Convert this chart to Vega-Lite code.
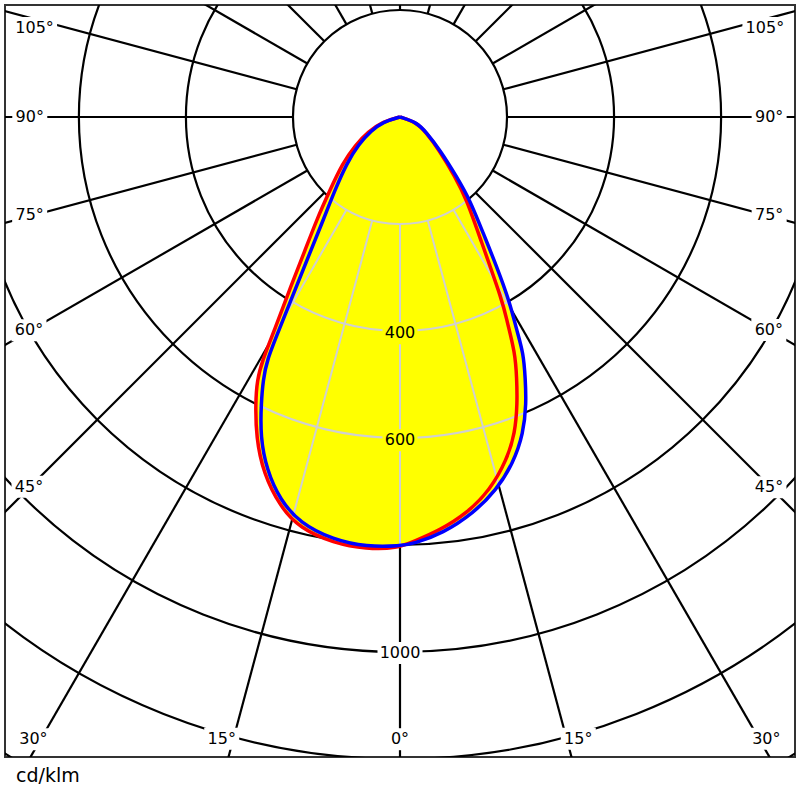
{
  "$schema": "https://vega.github.io/schema/vega-lite/v6.json",
  "width": 790,
  "height": 752,
  "padding": 5,
  "background": "white",
  "config": {"view": {"stroke": "#333333", "strokeWidth": 2}, "font": "DejaVu Sans"},
  "title": {"text": "cd/klm", "orient": "bottom", "anchor": "start", "fontSize": 19, "fontWeight": "normal", "font": "DejaVu Sans", "color": "#000000", "offset": 10, "dx": 11},
  "datasets": {
    "circles": [
      {"r": 200, "a1": -180, "a2": 180},
      {"r": 400, "a1": -180, "a2": 180},
      {"r": 600, "a1": -180, "a2": 180},
      {"r": 800, "a1": -180, "a2": 180},
      {"r": 1000, "a1": -180, "a2": 180},
      {"r": 1200, "a1": -180, "a2": 180},
      {"r": 1400, "a1": -180, "a2": 180}
    ],
    "radials": [
      {"a": -165, "r1": 200, "r2": 1600}, {"a": -150, "r1": 200, "r2": 1600}, {"a": -135, "r1": 200, "r2": 1600},
      {"a": -120, "r1": 200, "r2": 1600}, {"a": -105, "r1": 200, "r2": 1600}, {"a": -90, "r1": 200, "r2": 1600},
      {"a": -75, "r1": 200, "r2": 1600}, {"a": -60, "r1": 200, "r2": 1600}, {"a": -45, "r1": 200, "r2": 1600},
      {"a": -30, "r1": 200, "r2": 1600}, {"a": -15, "r1": 200, "r2": 1600}, {"a": 0, "r1": 200, "r2": 1600},
      {"a": 15, "r1": 200, "r2": 1600}, {"a": 30, "r1": 200, "r2": 1600}, {"a": 45, "r1": 200, "r2": 1600},
      {"a": 60, "r1": 200, "r2": 1600}, {"a": 75, "r1": 200, "r2": 1600}, {"a": 90, "r1": 200, "r2": 1600},
      {"a": 105, "r1": 200, "r2": 1600}, {"a": 120, "r1": 200, "r2": 1600}, {"a": 135, "r1": 200, "r2": 1600},
      {"a": 150, "r1": 200, "r2": 1600}, {"a": 165, "r1": 200, "r2": 1600}, {"a": 180, "r1": 200, "r2": 1600}
    ],
    "greyArcs": [
      {"r": 200, "a1": -41.5, "a2": 40},
      {"r": 400, "a1": -31.5, "a2": 30.5},
      {"r": 600, "a1": -26, "a2": 23}
    ],
    "greyRadials": [
      {"a": -30, "r1": 200, "r2": 430},
      {"a": -15, "r1": 200, "r2": 775},
      {"a": 0, "r1": 200, "r2": 802},
      {"a": 15, "r1": 200, "r2": 712},
      {"a": 30, "r1": 200, "r2": 415}
    ],
    "labels": [
      {"t": "105°", "a": -103.7, "r": 703},
      {"t": "90°", "a": -90, "r": 692},
      {"t": "75°", "a": -75.2, "r": 716},
      {"t": "60°", "a": -60.1, "r": 800},
      {"t": "45°", "a": -45.1, "r": 979},
      {"t": "105°", "a": 103.7, "r": 702},
      {"t": "90°", "a": 90, "r": 690},
      {"t": "75°", "a": 75.1, "r": 714},
      {"t": "60°", "a": 60, "r": 796},
      {"t": "45°", "a": 44.9, "r": 977},
      {"t": "30°", "a": -30.5, "r": 1350},
      {"t": "15°", "a": -16, "r": 1209},
      {"t": "0°", "a": 0, "r": 1163},
      {"t": "15°", "a": 16, "r": 1209},
      {"t": "30°", "a": 30.5, "r": 1349},
      {"t": "400", "a": 0, "r": 404},
      {"t": "600", "a": 0, "r": 604},
      {"t": "1000", "a": 0, "r": 1002}
    ],
    "curves": [
      {"plane": "C0-C180", "a": -90, "cd": 0},
      {"plane": "C0-C180", "a": -75, "cd": 34},
      {"plane": "C0-C180", "a": -65, "cd": 66},
      {"plane": "C0-C180", "a": -58, "cd": 98},
      {"plane": "C0-C180", "a": -51.1, "cd": 138},
      {"plane": "C0-C180", "a": -43.8, "cd": 189},
      {"plane": "C0-C180", "a": -39, "cd": 248},
      {"plane": "C0-C180", "a": -35.5, "cd": 305},
      {"plane": "C0-C180", "a": -32.6, "cd": 384},
      {"plane": "C0-C180", "a": -30.5, "cd": 462},
      {"plane": "C0-C180", "a": -29.5, "cd": 522},
      {"plane": "C0-C180", "a": -28.5, "cd": 560},
      {"plane": "C0-C180", "a": -26.8, "cd": 599},
      {"plane": "C0-C180", "a": -24.2, "cd": 656},
      {"plane": "C0-C180", "a": -21, "cd": 713},
      {"plane": "C0-C180", "a": -17.1, "cd": 762},
      {"plane": "C0-C180", "a": -13.7, "cd": 791},
      {"plane": "C0-C180", "a": -8.9, "cd": 806},
      {"plane": "C0-C180", "a": -4.4, "cd": 810},
      {"plane": "C0-C180", "a": -0.4, "cd": 806},
      {"plane": "C0-C180", "a": 1.8, "cd": 794},
      {"plane": "C0-C180", "a": 5.5, "cd": 776},
      {"plane": "C0-C180", "a": 9.6, "cd": 751},
      {"plane": "C0-C180", "a": 13.6, "cd": 717},
      {"plane": "C0-C180", "a": 17.3, "cd": 671},
      {"plane": "C0-C180", "a": 20, "cd": 629},
      {"plane": "C0-C180", "a": 22.3, "cd": 578},
      {"plane": "C0-C180", "a": 24.07, "cd": 535},
      {"plane": "C0-C180", "a": 26, "cd": 491},
      {"plane": "C0-C180", "a": 27.7, "cd": 429},
      {"plane": "C0-C180", "a": 29, "cd": 398},
      {"plane": "C0-C180", "a": 34, "cd": 262},
      {"plane": "C0-C180", "a": 38.8, "cd": 199},
      {"plane": "C0-C180", "a": 42.7, "cd": 152},
      {"plane": "C0-C180", "a": 50, "cd": 95},
      {"plane": "C0-C180", "a": 60, "cd": 55},
      {"plane": "C0-C180", "a": 72, "cd": 32},
      {"plane": "C0-C180", "a": 90, "cd": 0},
      {"plane": "C90-C270", "a": -90, "cd": 0},
      {"plane": "C90-C270", "a": -74.3, "cd": 32},
      {"plane": "C90-C270", "a": -64.5, "cd": 60},
      {"plane": "C90-C270", "a": -56.7, "cd": 92},
      {"plane": "C90-C270", "a": -49, "cd": 132},
      {"plane": "C90-C270", "a": -41.7, "cd": 183},
      {"plane": "C90-C270", "a": -36.7, "cd": 240},
      {"plane": "C90-C270", "a": -33.55, "cd": 305},
      {"plane": "C90-C270", "a": -31.25, "cd": 378},
      {"plane": "C90-C270", "a": -29.6, "cd": 458},
      {"plane": "C90-C270", "a": -28.7, "cd": 518},
      {"plane": "C90-C270", "a": -27.5, "cd": 554},
      {"plane": "C90-C270", "a": -25.9, "cd": 594},
      {"plane": "C90-C270", "a": -23.6, "cd": 652},
      {"plane": "C90-C270", "a": -20.7, "cd": 705},
      {"plane": "C90-C270", "a": -17.4, "cd": 750},
      {"plane": "C90-C270", "a": -13.8, "cd": 782},
      {"plane": "C90-C270", "a": -9, "cd": 800},
      {"plane": "C90-C270", "a": -4.4, "cd": 806},
      {"plane": "C90-C270", "a": 0, "cd": 802},
      {"plane": "C90-C270", "a": 1.8, "cd": 798},
      {"plane": "C90-C270", "a": 5.9, "cd": 782},
      {"plane": "C90-C270", "a": 10.5, "cd": 753},
      {"plane": "C90-C270", "a": 14.5, "cd": 720},
      {"plane": "C90-C270", "a": 18.1, "cd": 681},
      {"plane": "C90-C270", "a": 21.3, "cd": 635},
      {"plane": "C90-C270", "a": 23.8, "cd": 585},
      {"plane": "C90-C270", "a": 25.6, "cd": 542},
      {"plane": "C90-C270", "a": 27.6, "cd": 498},
      {"plane": "C90-C270", "a": 28.7, "cd": 454},
      {"plane": "C90-C270", "a": 30.6, "cd": 404},
      {"plane": "C90-C270", "a": 32.9, "cd": 333},
      {"plane": "C90-C270", "a": 35.6, "cd": 267},
      {"plane": "C90-C270", "a": 40.1, "cd": 203},
      {"plane": "C90-C270", "a": 43.5, "cd": 154},
      {"plane": "C90-C270", "a": 50.5, "cd": 97},
      {"plane": "C90-C270", "a": 60, "cd": 56},
      {"plane": "C90-C270", "a": 72, "cd": 33},
      {"plane": "C90-C270", "a": 90, "cd": 0}
    ]
  },
  "layer": [
    {
      "data": {"name": "circles"},
      "mark": {"type": "arc", "filled": false, "stroke": "#000000", "strokeWidth": 2.2, "clip": true},
      "encoding": {
        "x": {"datum": 0, "type": "quantitative", "scale": {"domain": [-738.32, 738.32], "nice": false, "zero": false}, "axis": null},
        "y": {"datum": 0, "type": "quantitative", "scale": {"domain": [-209.35, 1196.26], "nice": false, "zero": false, "reverse": true}, "axis": null},
        "theta": {"field": "a1", "type": "quantitative", "scale": {"domain": [-180, 180], "range": [6.283185307, 0]}, "stack": null},
        "theta2": {"field": "a2"},
        "radius": {"field": "r", "type": "quantitative", "scale": {"type": "linear", "domain": [0, 1400], "range": [0, 749], "zero": true}},
        "radius2": {"field": "r"}
      }
    },
    {
      "data": {"name": "radials"},
      "transform": [
        {"calculate": "datum.r1*sin(datum.a*PI/180)", "as": "x"},
        {"calculate": "datum.r1*cos(datum.a*PI/180)", "as": "y"},
        {"calculate": "datum.r2*sin(datum.a*PI/180)", "as": "x2"},
        {"calculate": "datum.r2*cos(datum.a*PI/180)", "as": "y2"}
      ],
      "mark": {"type": "rule", "color": "#000000", "strokeWidth": 2.2, "clip": true},
      "encoding": {
        "x": {"field": "x", "type": "quantitative", "scale": {"domain": [-738.32, 738.32], "nice": false, "zero": false}, "axis": null},
        "y": {"field": "y", "type": "quantitative", "scale": {"domain": [-209.35, 1196.26], "nice": false, "zero": false, "reverse": true}, "axis": null},
        "x2": {"field": "x2"},
        "y2": {"field": "y2"}
      }
    },
    {
      "data": {"name": "curves"},
      "transform": [
        {"calculate": "datum.cd*sin(datum.a*PI/180)", "as": "x"},
        {"calculate": "datum.cd*cos(datum.a*PI/180)", "as": "y"}
      ],
      "mark": {"type": "line", "filled": true, "fill": "#ffff00", "color": "#ffff00", "strokeWidth": 0, "interpolate": "basis", "clip": true},
      "encoding": {
        "x": {"field": "x", "type": "quantitative", "axis": null},
        "y": {"field": "y", "type": "quantitative", "axis": null},
        "detail": {"field": "plane"},
        "order": {"field": "a", "type": "quantitative"}
      }
    },
    {
      "data": {"name": "greyArcs"},
      "mark": {"type": "arc", "filled": false, "stroke": "#d0d0d0", "strokeWidth": 2, "clip": true},
      "encoding": {
        "x": {"datum": 0, "type": "quantitative"},
        "y": {"datum": 0, "type": "quantitative"},
        "theta": {"field": "a1", "type": "quantitative", "stack": null},
        "theta2": {"field": "a2"},
        "radius": {"field": "r", "type": "quantitative"},
        "radius2": {"field": "r"}
      }
    },
    {
      "data": {"name": "greyRadials"},
      "transform": [
        {"calculate": "datum.r1*sin(datum.a*PI/180)", "as": "x"},
        {"calculate": "datum.r1*cos(datum.a*PI/180)", "as": "y"},
        {"calculate": "datum.r2*sin(datum.a*PI/180)", "as": "x2"},
        {"calculate": "datum.r2*cos(datum.a*PI/180)", "as": "y2"}
      ],
      "mark": {"type": "rule", "color": "#d0d0d0", "strokeWidth": 2, "clip": true},
      "encoding": {
        "x": {"field": "x", "type": "quantitative"},
        "y": {"field": "y", "type": "quantitative"},
        "x2": {"field": "x2"},
        "y2": {"field": "y2"}
      }
    },
    {
      "data": {"name": "labels"},
      "transform": [
        {"calculate": "datum.r*sin(datum.a*PI/180)", "as": "x"},
        {"calculate": "datum.r*cos(datum.a*PI/180)", "as": "y"}
      ],
      "mark": {"type": "point", "filled": true, "opacity": 1, "strokeWidth": 0},
      "encoding": {
        "x": {"field": "x", "type": "quantitative"},
        "y": {"field": "y", "type": "quantitative"},
        "shape": {
          "condition": [
            {"test": "length(datum.t) == 2", "value": "M-1,-0.88H1V0.88H-1Z"},
            {"test": "length(datum.t) == 4", "value": "M-1,-0.489H1V0.489H-1Z"}
          ],
          "value": "M-1,-0.629H1V0.629H-1Z"
        },
        "size": {
          "condition": [
            {"test": "length(datum.t) == 2", "value": 625},
            {"test": "length(datum.t) == 4", "value": 2025}
          ],
          "value": 1225
        },
        "color": {
          "condition": {"test": "datum.t == '400' || datum.t == '600'", "value": "#ffff00"},
          "value": "#ffffff"
        }
      }
    },
    {
      "data": {"name": "labels"},
      "transform": [
        {"calculate": "datum.r*sin(datum.a*PI/180)", "as": "x"},
        {"calculate": "datum.r*cos(datum.a*PI/180)", "as": "y"}
      ],
      "mark": {"type": "text", "font": "DejaVu Sans", "fontSize": 16, "align": "center", "baseline": "middle", "color": "#000000"},
      "encoding": {
        "x": {"field": "x", "type": "quantitative"},
        "y": {"field": "y", "type": "quantitative"},
        "text": {"field": "t"}
      }
    },
    {
      "data": {"name": "curves"},
      "transform": [
        {"filter": "datum.plane == 'C0-C180'"},
        {"calculate": "datum.cd*sin(datum.a*PI/180)", "as": "x"},
        {"calculate": "datum.cd*cos(datum.a*PI/180)", "as": "y"}
      ],
      "mark": {"type": "line", "color": "#ff0000", "strokeWidth": 3.5, "interpolate": "basis", "clip": true},
      "encoding": {
        "x": {"field": "x", "type": "quantitative"},
        "y": {"field": "y", "type": "quantitative"},
        "order": {"field": "a", "type": "quantitative"}
      }
    },
    {
      "data": {"name": "curves"},
      "transform": [
        {"filter": "datum.plane == 'C90-C270'"},
        {"calculate": "datum.cd*sin(datum.a*PI/180)", "as": "x"},
        {"calculate": "datum.cd*cos(datum.a*PI/180)", "as": "y"}
      ],
      "mark": {"type": "line", "color": "#0000ff", "strokeWidth": 3.5, "interpolate": "basis", "clip": true},
      "encoding": {
        "x": {"field": "x", "type": "quantitative"},
        "y": {"field": "y", "type": "quantitative"},
        "order": {"field": "a", "type": "quantitative"}
      }
    }
  ]
}
